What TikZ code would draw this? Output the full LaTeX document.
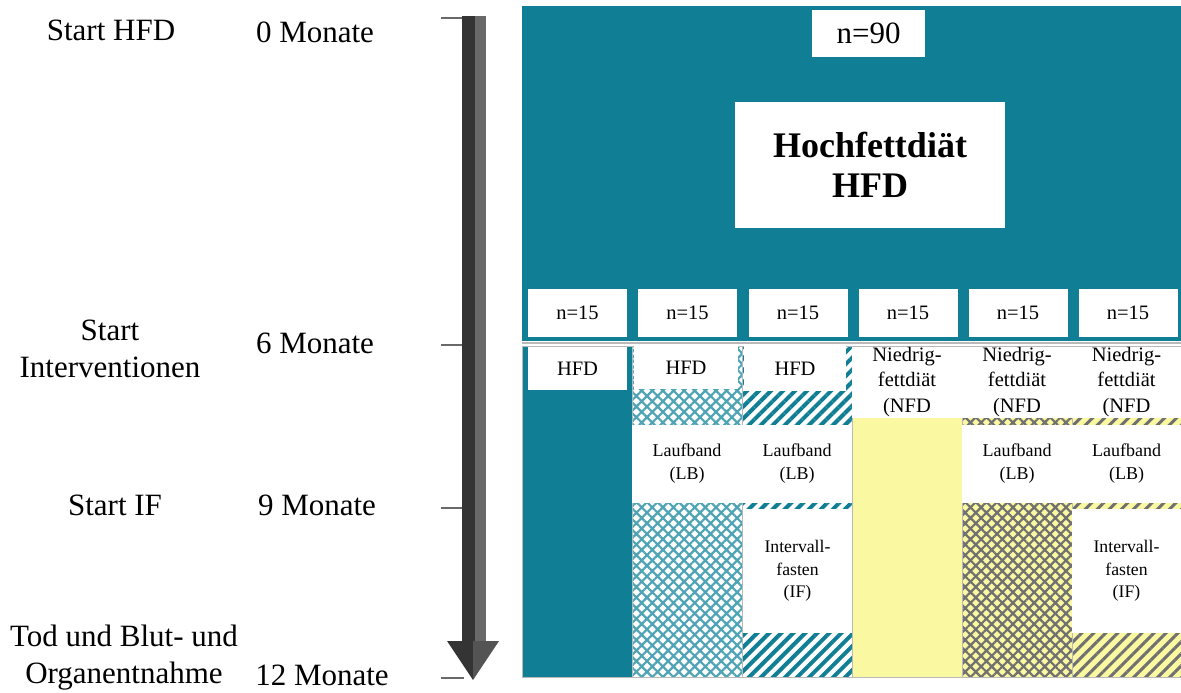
\documentclass[tikz,border=0pt]{standalone}
\usepackage{fontspec}
\setmainfont{Liberation Serif}
\usetikzlibrary{patterns.meta}
\definecolor{hfdteal}{RGB}{16,127,150}
\definecolor{hatchteal}{RGB}{78,163,181}
\definecolor{nfdyellow}{RGB}{250,248,160}
\definecolor{hatchgray}{RGB}{112,112,112}
\definecolor{sepgray}{RGB}{185,185,185}
\definecolor{arrowdark}{RGB}{52,52,52}
\definecolor{arrowlight}{RGB}{105,105,105}
\tikzset{
  timetext/.style={align=center, inner sep=0pt, font=\fontsize{31}{37}\selectfont},
  whitebox/.style={fill=white, inner sep=0pt, align=center},
  countbox/.style={whitebox, minimum width=99, minimum height=48, font=\fontsize{20.5}{24}\selectfont},
  groupbox/.style={whitebox, font=\fontsize{20.5}{25.5}\selectfont},
  stepbox/.style={whitebox, font=\fontsize{18}{23}\selectfont},
  tealhatch/.style={fill=white, postaction={pattern={Hatch[angle=45, distance=7.5pt, line width=2.2pt]}, pattern color=hatchteal}},
  tealstripes/.style={fill=white, postaction={pattern={Lines[angle=45, distance=8.5pt, line width=4pt]}, pattern color=hfdteal}},
  yellowhatch/.style={fill=nfdyellow, postaction={pattern={Hatch[angle=45, distance=7.5pt, line width=2.2pt]}, pattern color=hatchgray}},
  yellowstripes/.style={fill=nfdyellow, postaction={pattern={Lines[angle=45, distance=8.5pt, line width=3pt]}, pattern color=hatchgray}}
}
\begin{document}
\begin{tikzpicture}[x=1pt, y=-1pt]
\useasboundingbox (0,0) rectangle (1181,693);
% time axis
\foreach \y in {18,345,508,678}
\draw[arrowlight, line width=2] (441,\y) -- (464,\y);
\fill[arrowdark] (462,16) rectangle (475,642);
\fill[arrowlight] (475,16) rectangle (486,642);
\fill[arrowdark] (447,641) -- (473,641) -- (473,680) -- cycle;
\fill[arrowlight!80!black] (473,641) -- (499,641) -- (473,680) -- cycle;
\node[timetext] (startHFD) at (111,30) {Start HFD};
\node[timetext] (m0) at (315,32) {0 Monate};
\node[timetext] (startInt) at (110,349) {Start\\Interventionen};
\node[timetext] (m6) at (315,343) {6 Monate};
\node[timetext] (startIF) at (115,505) {Start IF};
\node[timetext] (m9) at (317,505) {9 Monate};
\node[timetext] (endStudy) at (124,658) {Tod und Blut- und\\Organentnahme};
\node[timetext] (m12) at (322,675) {12 Monate};
% HFD phase
\fill[hfdteal] (522,6) rectangle (1181,341);
\draw[sepgray, line width=1.5] (522,343) -- (1181,343);
\node[whitebox, minimum width=113, minimum height=47, font=\fontsize{31}{35}\selectfont] (n90) at (868.5,33.5) {n=90};
\node[whitebox, minimum width=270, minimum height=126, font=\fontsize{36}{40}\selectfont\bfseries] (hfd) at (870,165) {Hochfettdiät\\HFD};
\foreach \i/\x in {1/577.5,2/687.5,3/798,4/908,5/1018,6/1128}
\node[countbox] (n\i) at (\x,313) {n=15};
% intervention groups
\fill[hfdteal] (522,346) rectangle (632,677);
\fill[tealhatch] (632,346) rectangle (742,677);
\fill[tealstripes] (742,346) rectangle (852,677);
\fill[nfdyellow] (852,418) rectangle (962,677);
\fill[yellowhatch] (962,418) rectangle (1072,677);
\fill[yellowstripes] (1072,418) rectangle (1181,677);
\draw[sepgray] (522,346) rectangle (1181,677);
\foreach \x in {632,742,852,962,1072}
\draw[sepgray] (\x,346) -- (\x,677);
\node[groupbox, minimum width=99, minimum height=43] (hfd1) at (577.5,368.5) {HFD};
\node[groupbox, minimum width=104, minimum height=43] (hfd2) at (686,367.5) {HFD};
\node[groupbox, minimum width=102, minimum height=45] (hfd3) at (795,368.5) {HFD};
\foreach \i/\x/\w in {4/907/110,5/1017/110,6/1126.5/109}
\node[groupbox, minimum width=\w, minimum height=71] (nfd\i) at (\x,382) {Niedrig-\\fettdiät\\(NFD};
\foreach \i/\x/\w in {2/687/110,3/797/110,5/1017/110,6/1126.5/109}
\node[stepbox, minimum width=\w, minimum height=78] (lb\i) at (\x,463.5) {Laufband\\(LB)};
\foreach \i/\x in {3/797.5,6/1126.5}
\node[stepbox, minimum width=109, minimum height=124, font=\fontsize{17.7}{22.5}\selectfont] (if\i) at (\x,571) {Intervall-\\fasten\\(IF)};
\end{tikzpicture}
\end{document}
